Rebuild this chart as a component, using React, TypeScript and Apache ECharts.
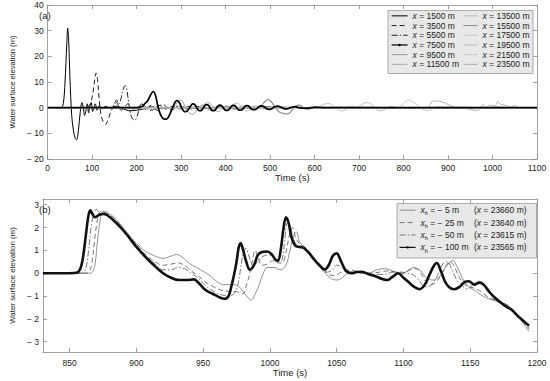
import React, { useEffect, useRef } from "react";
import * as echarts from "echarts";

const FONT = '"Liberation Sans", Arial, Helvetica, sans-serif';
const TXT = "#222";
const AX = "#8a8a8a";

// ---------- Panel (a) ----------
const topXTicks = [0, 100, 200, 300, 400, 500, 600, 700, 800, 900, 1000, 1100];
const topYTicks = [-20, -10, 0, 10, 20, 30, 40];
const topNames = [
  "x = 1500 m", "x = 3500 m", "x = 5500 m", "x = 7500 m", "x = 9500 m", "x = 11500 m",
  "x = 13500 m", "x = 15500 m", "x = 17500 m", "x = 19500 m", "x = 21500 m", "x = 23500 m",
];

const s1500 = [[0,0],[30,0],[35,1.5],[39,10],[43,25],[45,31],[47,27],[50,12],[54,-3],[58,-9],[62,-12],[65,-12.5],[69,-9],[73,-2],[77,2],[80,0],[83,-3],[86,-1],[89,1.5],[92,-2],[95,0.5],[98,2],[101,-1.5],[104,0],[107,1.5],[111,-1],[116,0.8],[122,-0.5],[130,0.5],[140,-0.2],[155,0.6],[170,-0.5],[185,-1.2],[200,-1],[215,-0.5],[230,0.3],[260,-0.3],[300,0.2],[350,-0.2],[400,0.2],[450,0],[500,0.2],[600,0],[700,0.1],[800,0],[900,0.1],[1000,0],[1100,0]];
const s3500 = [[0,0],[85,0],[92,0.5],[97,2],[101,5],[105,10],[109,13.5],[112,11],[116,3],[120,-3],[125,-5.5],[130,-6.5],[135,-5],[140,-2.5],[145,-0.5],[150,1],[155,2],[160,0.5],[165,-1],[172,0],[180,1.5],[188,0],[195,-1],[205,0.5],[215,1],[225,-0.5],[235,-1],[245,0.5],[255,1],[265,-0.5],[280,0.5],[300,-0.5],[320,0.5],[350,-0.3],[380,0.3],[420,-0.2],[480,0.2],[550,0],[650,0.1],[800,0],[1100,0]];
const s5500 = [[0,0],[140,0],[146,0.5],[150,1.5],[155,3],[160,1.5],[164,3],[168,6],[172,8.3],[175,8.5],[178,7],[182,2],[186,-2],[190,-4.2],[195,-4.8],[200,-4],[204,-1.5],[208,1],[212,1.5],[217,0],[222,-1],[228,0.5],[234,1],[240,-0.5],[247,-1],[255,0.5],[262,1],[270,-0.5],[280,-1],[290,0.5],[300,0.8],[312,-0.5],[325,-0.5],[340,0.5],[360,-0.3],[390,0.3],[430,-0.3],[480,0.2],[540,-0.1],[620,0.1],[700,0],[1100,0]];
const s7500 = [[0,0],[205,0],[212,0.5],[218,1.5],[224,2.5],[230,4.5],[235,6],[238,6.3],[242,5],[246,2],[251,-1.5],[256,-3.5],[261,-4.4],[266,-4.5],[271,-3.8],[276,-2],[281,0],[286,2],[291,2.8],[296,2],[301,0],[306,-1.3],[311,-1.6],[316,-0.8],[321,0.5],[326,1.5],[331,1.2],[336,-0.3],[341,-1.2],[346,-1],[351,0.2],[356,1.2],[361,1],[366,-0.3],[371,-1.2],[376,-1],[381,0.2],[386,1],[391,0.8],[396,-0.4],[401,-1.1],[406,-1],[411,0.1],[416,0.9],[421,0.8],[426,-0.3],[431,-1],[436,-0.9],[441,0],[446,0.8],[451,0.7],[456,-0.2],[461,-0.8],[467,-0.7],[473,0.1],[479,0.7],[485,0.5],[491,-0.3],[497,-0.7],[503,-0.5],[510,0.3],[517,0.6],[524,0.2],[531,-0.4],[538,-0.5],[546,0],[555,0.4],[565,0],[580,-0.2],[600,0.1],[650,0],[1100,0]];
const s9500 = [[0,0],[260,0],[270,0.3],[280,-0.5],[287,0.8],[293,2.3],[298,3],[303,2.5],[308,0.8],[314,-1.2],[320,-2.3],[326,-2.6],[332,-1.8],[338,-0.3],[344,0.8],[350,1],[356,0.2],[362,-0.8],[368,-1],[374,-0.2],[380,0.6],[386,0.8],[392,0],[398,-0.6],[405,-0.5],[412,0.4],[420,0.5],[428,-0.3],[436,-0.5],[445,0.2],[455,0.4],[465,-0.2],[480,-0.3],[500,0.2],[530,-0.1],[600,0],[1100,0]];
const s11500 = [[0,0],[320,0],[330,0.3],[338,-0.3],[346,0.5],[354,1.5],[360,2],[366,1.5],[372,0],[378,-1.2],[384,-1.5],[390,-0.8],[396,0.3],[402,0.8],[408,0.5],[414,-0.4],[420,-0.8],[427,-0.3],[434,0.5],[441,0.6],[448,0],[455,-0.5],[463,-0.3],[471,0.3],[480,0.4],[490,-0.2],[500,-0.3],[515,0.2],[535,0],[600,0.1],[1100,0]];
const s13500 = [[0,0],[385,0],[395,0.3],[403,-0.2],[411,0.5],[418,1.3],[425,1.8],[431,1.4],[437,0.2],[443,-0.9],[449,-1.3],[455,-0.8],[461,0.2],[467,0.7],[473,0.5],[479,-0.2],[486,-0.6],[493,-0.3],[500,0.3],[508,0.4],[516,-0.1],[525,-0.3],[540,0.1],[560,0],[1100,0]];
const s15500 = [[0,0],[450,0],[462,0.2],[470,-0.3],[477,0.4],[483,1.3],[489,2.5],[495,3.1],[500,2.8],[506,1.5],[512,0],[518,-1.3],[524,-2],[530,-2.2],[537,-2.4],[543,-2.2],[549,-1],[555,0.2],[561,0.9],[567,1],[573,0.3],[580,-0.5],[587,-0.6],[594,0],[602,0.4],[610,0.2],[620,-0.2],[635,0],[660,0.1],[700,0],[1100,0]];
const s17500 = [[0,0],[580,0],[592,0.3],[600,-0.3],[608,0.3],[616,1],[624,1.5],[632,1.6],[640,1],[648,-0.2],[655,-1],[662,-1.3],[669,-0.8],[676,0],[683,0.5],[690,0.4],[698,-0.2],[706,-0.4],[715,0],[725,0.2],[740,0],[1100,0]];
const s19500 = [[0,0],[670,0],[682,0.2],[690,-0.3],[698,0.3],[706,1],[713,1.8],[720,2],[727,1.5],[734,0.3],[741,-0.8],[748,-1.2],[755,-0.9],[762,-0.2],[769,0.4],[776,0.5],[784,0],[792,-0.4],[800,-0.3],[810,0.1],[825,0.1],[850,0],[1100,0]];
const s21500 = [[0,0],[765,0],[778,0.2],[786,-0.2],[793,0.5],[800,1.5],[806,2.6],[812,3],[818,2.6],[825,1.8],[832,0.8],[840,-0.3],[848,-1],[856,-1.1],[864,-0.6],[872,0],[880,0.3],[890,0.2],[900,-0.2],[912,-0.3],[925,0],[940,0.3],[955,0.1],[970,-0.2],[990,0],[1010,0.5],[1020,0.3],[1040,-0.2],[1060,0],[1100,0]];
const s23500 = [[0,0],[850,0],[856,0.2],[860,1.2],[864,2.4],[867,2.7],[872,2.5],[877,2.6],[885,2.3],[892,1.9],[900,1.2],[910,0.5],[920,0],[930,-0.3],[940,-0.3],[950,-0.7],[960,-1],[966,-1.1],[972,-0.4],[976,0.8],[978,1.3],[982,0.6],[986,0.1],[992,0.8],[998,0.9],[1004,0.6],[1008,1.2],[1012,2.4],[1016,1.6],[1022,1.1],[1030,0.9],[1040,0.2],[1050,0.8],[1058,0.1],[1070,0],[1080,-0.1],[1090,-0.3],[1100,0]];

// ---------- Panel (b) ----------
const botXTicks = [850, 900, 950, 1000, 1050, 1100, 1150, 1200];
const botYTicks = [-3, -2, -1, 0, 1, 2, 3];
const botXh = ["− 5", "− 25", "− 50", "− 100"];
const botX = ["23660", "23640", "23615", "23565"];

const b5 = [[830,0],[864,0],[867,0.05],[869,0.4],[871,1.5],[873,2.4],[875,2.7],[877,2.7],[880,2.6],[885,2.35],[892,1.85],[900,1.3],[907,0.95],[914,0.75],[920,0.65],[926,0.75],[930,0.82],[934,0.72],[938,0.5],[942,0.35],[948,0.15],[955,-0.1],[960,-0.35],[965,-0.5],[972,-0.5],[976,-0.55],[980,-0.8],[984,-1.1],[986,-1.18],[989,-0.9],[992,-0.5],[995,0.0],[998,0.25],[1003,0.25],[1008,0.15],[1012,0.35],[1015,1.0],[1018,1.7],[1020,1.8],[1022,1.4],[1026,1.1],[1030,0.9],[1035,0.5],[1040,0.1],[1045,-0.2],[1050,-0.3],[1054,-0.2],[1058,0.0],[1063,0.1],[1068,0.05],[1074,0.0],[1080,0.15],[1086,0.2],[1092,0.1],[1098,-0.05],[1104,0.15],[1108,0.25],[1113,0.1],[1117,-0.2],[1122,-0.3],[1126,-0.2],[1130,0.1],[1134,0.45],[1137,0.55],[1140,0.3],[1144,-0.2],[1148,-0.55],[1153,-0.75],[1158,-0.95],[1163,-1.1],[1168,-1.2],[1173,-1.3],[1178,-1.4],[1183,-1.7],[1188,-2.05],[1194,-2.55]];
const b25 = [[830,0],[862,0],[865,0.1],[867,0.6],[869,1.6],[871,2.4],[873,2.7],[876,2.65],[880,2.55],[885,2.3],[892,1.8],[900,1.25],[907,0.8],[914,0.5],[920,0.35],[926,0.4],[931,0.45],[936,0.35],[941,0.1],[946,-0.1],[952,-0.4],[958,-0.6],[964,-0.75],[970,-0.8],[974,-0.8],[977,-0.85],[980,-0.9],[982,-0.6],[985,0.0],[987,0.6],[989,1.0],[991,0.7],[994,0.35],[998,0.4],[1002,0.55],[1006,0.45],[1009,0.45],[1012,0.9],[1015,1.8],[1017,2.0],[1019,1.6],[1022,1.3],[1026,1.15],[1030,0.9],[1035,0.55],[1040,0.2],[1044,-0.05],[1048,-0.1],[1052,0.0],[1056,0.1],[1060,0.15],[1065,0.05],[1070,0.0],[1076,0.0],[1082,0.05],[1088,0.1],[1094,0.05],[1100,0.0],[1105,0.15],[1109,0.2],[1113,0.0],[1117,-0.4],[1121,-0.5],[1125,-0.35],[1129,0.0],[1132,0.35],[1135,0.5],[1138,0.3],[1142,-0.2],[1146,-0.5],[1150,-0.6],[1155,-0.7],[1160,-0.9],[1165,-1.1],[1170,-1.2],[1175,-1.35],[1180,-1.5],[1185,-1.8],[1190,-2.15],[1194,-2.45]];
const b50 = [[830,0],[859,0],[862,0.2],[864,0.9],[866,2.0],[868,2.6],[870,2.8],[873,2.6],[877,2.6],[882,2.4],[890,1.9],[900,1.2],[907,0.75],[914,0.4],[920,0.15],[926,0.15],[931,0.25],[936,0.2],[941,0.0],[946,-0.2],[952,-0.55],[958,-0.8],[964,-0.95],[969,-1.0],[973,-0.9],[976,-0.5],[978,0.2],[980,0.9],[982,1.1],[984,0.8],[987,0.4],[990,0.45],[994,0.7],[998,0.8],[1002,0.75],[1006,0.5],[1009,0.6],[1011,1.4],[1013,2.2],[1015,2.15],[1017,1.6],[1020,1.25],[1024,1.15],[1028,0.95],[1033,0.6],[1038,0.25],[1042,0.05],[1046,0.1],[1050,0.35],[1053,0.3],[1057,0.05],[1062,0.0],[1067,0.05],[1073,0.0],[1080,-0.05],[1086,-0.05],[1092,0.05],[1098,0.05],[1103,0.0],[1108,-0.1],[1112,-0.35],[1116,-0.6],[1120,-0.55],[1124,-0.25],[1127,0.1],[1130,0.45],[1133,0.5],[1136,0.2],[1140,-0.3],[1144,-0.55],[1148,-0.7],[1152,-0.5],[1156,-0.35],[1160,-0.45],[1165,-0.8],[1170,-1.1],[1175,-1.3],[1180,-1.5],[1185,-1.8],[1190,-2.1],[1194,-2.4]];
const b100 = [[830,0],[850,0],[855,0.02],[858,0.2],[860,0.7],[862,1.6],[864,2.5],[865.5,2.75],[867,2.6],[869,2.45],[872,2.55],[875,2.6],[878,2.55],[885,2.2],[892,1.75],[900,1.15],[907,0.7],[914,0.3],[920,0.0],[926,-0.2],[932,-0.3],[938,-0.3],[943,-0.27],[947,-0.45],[952,-0.75],[957,-0.9],[962,-1.05],[966,-1.12],[969,-1.0],[971,-0.6],[973,-0.1],[975,0.5],[976.5,1.1],[978,1.32],[980,1.0],[982,0.55],[985,0.15],[988,0.35],[991,0.8],[994,0.93],[998,0.95],[1001,0.85],[1004,0.6],[1006,0.55],[1008,1.0],[1010,1.9],[1012,2.45],[1014,2.2],[1016,1.6],[1019,1.2],[1022,1.15],[1025,1.12],[1029,0.9],[1033,0.6],[1037,0.35],[1041,0.16],[1044,0.35],[1047,0.75],[1050,0.87],[1053,0.55],[1057,0.1],[1061,0.0],[1065,0.05],[1069,0.06],[1074,-0.05],[1079,-0.13],[1084,-0.25],[1088,-0.3],[1092,-0.15],[1096,0.0],[1100,-0.2],[1104,-0.4],[1108,-0.6],[1112,-0.7],[1116,-0.5],[1120,0.0],[1123,0.35],[1125,0.45],[1128,0.1],[1131,-0.35],[1134,-0.6],[1138,-0.7],[1142,-0.6],[1146,-0.38],[1149,-0.35],[1153,-0.5],[1157,-0.41],[1160,-0.5],[1164,-0.8],[1168,-1.05],[1172,-1.25],[1177,-1.47],[1181,-1.6],[1185,-1.84],[1189,-2.05],[1194,-2.3]];

const topData = [s1500, s3500, s5500, s7500, s9500, s11500, s13500, s15500, s17500, s19500, s21500, s23500];
const botData = [b5, b25, b50, b100];

const topStyles = [
  { color: "#000", width: 1, type: "solid" },
  { color: "#222", width: 1, type: [5, 3] },
  { color: "#222", width: 1, type: [6, 2, 1.5, 2] },
  { color: "#000", width: 1.7, type: "solid", sym: true },
  { color: "#999", width: 1, type: "solid" },
  { color: "#aaa", width: 1, type: "solid" },
  { color: "#bbb", width: 1, type: "solid" },
  { color: "#8c8c8c", width: 1.2, type: "solid" },
  { color: "#c4c4c4", width: 1, type: "solid" },
  { color: "#bdbdbd", width: 1, type: "solid" },
  { color: "#c8c8c8", width: 1, type: "solid" },
  { color: "#b0b0b0", width: 1, type: "solid" },
];
const botStyles = [
  { color: "#777", width: 0.8, type: "solid" },
  { color: "#555", width: 0.8, type: [5, 3] },
  { color: "#555", width: 0.8, type: [6, 2, 1.5, 2] },
  { color: "#111", width: 2.6, type: "solid", sym: true },
];

const minus = (v: number) => (v < 0 ? "− " + Math.abs(v) : String(v));
const plain = (v: number) => String(v);

function App() {
  const ref = useRef<HTMLDivElement>(null);
  useEffect(() => {
    if (!ref.current) return;
    const chart = echarts.init(ref.current, undefined, { renderer: "svg" });
    const botNames = botXh.map((h, i) => `xh = ${h} m (x = ${botX[i]} m)`);

    const tickBase = (vals: number[] | null, show: boolean, fmt?: any, margin = 4) => ({
      axisLine: { show: true, onZero: false, lineStyle: { color: AX, width: 0.8 } },
      axisTick: { show: true, inside: true, length: 4, lineStyle: { color: AX, width: 0.8 }, ...(vals ? { customValues: vals } : {}) },
      axisLabel: { show, color: TXT, fontSize: 8.5, fontFamily: FONT, margin, formatter: fmt, ...(vals ? { customValues: vals } : {}) },
      splitLine: { show: false },
    });

    const mkSeries = (data: number[][][], styles: any[], names: string[], axisIdx: number) =>
      data.map((d, i) => ({
        type: "line",
        name: names[i],
        xAxisIndex: axisIdx,
        yAxisIndex: axisIdx,
        data: d,
        smooth: 0.35,
        symbol: styles[i].sym ? "circle" : "none",
        symbolSize: 3,
        showSymbol: false,
        itemStyle: { color: styles[i].color },
        lineStyle: { color: styles[i].color, width: styles[i].width, type: styles[i].type },
        z: styles[i].sym ? 3 : 2,
        silent: true,
      }));

    const legendItems = (names: string[], styles: any[]) =>
      names.map((n, i) => ({
        name: n,
        itemStyle: styles[i].sym ? { color: styles[i].color, borderWidth: 0, opacity: 1 } : { opacity: 0 },
        lineStyle: { width: styles[i].sym ? 1.2 : Math.min(styles[i].width, 1), color: styles[i].color, type: styles[i].type },
      }));

    const topFmt = (name: string) => `{i|x}{n|${name.slice(1)}}`;
    const botFmt = (name: string) => {
      const i = botNames.indexOf(name);
      return `{i|x}{sub|h}{a| = ${botXh[i]} m}{n|(}{i|x}{n| = ${botX[i]} m)}`;
    };
    const richTop = {
      i: { fontStyle: "italic", fontSize: 8.5, fontFamily: FONT, color: TXT, lineHeight: 9.7 },
      n: { fontSize: 8.5, fontFamily: FONT, color: TXT, lineHeight: 9.7 },
    };
    const richBot = {
      i: { fontStyle: "italic", fontSize: 8.5, fontFamily: FONT, color: TXT, lineHeight: 12.4 },
      n: { fontSize: 8.5, fontFamily: FONT, color: TXT, lineHeight: 12.4 },
      a: { fontSize: 8.5, fontFamily: FONT, color: TXT, lineHeight: 12.4, width: 46 },
      sub: { fontSize: 5.5, fontFamily: FONT, color: TXT, lineHeight: 12.4, verticalAlign: "bottom", padding: [4, 0, 0, 0] },
    };

    const option: any = {
      animation: false,
      backgroundColor: "#fff",
      textStyle: { fontFamily: FONT },
      grid: [
        { left: 36, right: 13, top: 5, height: 154, containLabel: false },
        { left: 36, right: 13, top: 199, height: 153, containLabel: false },
      ],
      xAxis: [
        { type: "value", gridIndex: 0, position: "bottom", min: 0, max: 1100, interval: 100, ...tickBase(null, true, plain, 4),
          name: "Time (s)", nameLocation: "middle", nameGap: 12.5, nameTextStyle: { fontSize: 9.5, color: TXT, fontFamily: FONT } },
        { type: "value", gridIndex: 0, position: "top", min: 0, max: 1100, interval: 100, ...tickBase(null, false) },
        { type: "value", gridIndex: 1, position: "bottom", min: 830, max: 1200, ...tickBase(botXTicks, true, plain, 6),
          name: "Time (s)", nameLocation: "middle", nameGap: 15, nameTextStyle: { fontSize: 9.5, color: TXT, fontFamily: FONT } },
        { type: "value", gridIndex: 1, position: "top", min: 830, max: 1200, ...tickBase(botXTicks, false) },
      ],
      yAxis: [
        { type: "value", gridIndex: 0, position: "left", min: -20, max: 40, interval: 10, ...tickBase(null, true, minus, 4),
          name: "Water surface elevation (m)", nameLocation: "middle", nameGap: 23, nameTextStyle: { fontSize: 7.6, color: TXT, fontFamily: FONT } },
        { type: "value", gridIndex: 0, position: "right", min: -20, max: 40, interval: 10, ...tickBase(null, false) },
        { type: "value", gridIndex: 1, position: "left", min: -3.45, max: 3.25, ...tickBase(botYTicks, true, minus, 4),
          name: "Water surface elevation (m)", nameLocation: "middle", nameGap: 23, nameTextStyle: { fontSize: 7.9, color: TXT, fontFamily: FONT } },
        { type: "value", gridIndex: 1, position: "right", min: -3.45, max: 3.25, ...tickBase(botYTicks, false) },
      ],
      legend: [
        { orient: "vertical", left: 391, top: 11, itemWidth: 16, itemHeight: 3, itemGap: 0, padding: 0,
          data: legendItems(topNames.slice(0, 6), topStyles.slice(0, 6)), formatter: topFmt,
          textStyle: { rich: richTop, fontSize: 8.5, lineHeight: 9.7 }, selectedMode: false },
        { orient: "vertical", left: 463, top: 11, itemWidth: 14, itemHeight: 3, itemGap: 0, padding: 0,
          data: legendItems(topNames.slice(6), topStyles.slice(6)), formatter: topFmt,
          textStyle: { rich: richTop, fontSize: 8.5, lineHeight: 9.7 }, selectedMode: false },
        { orient: "vertical", left: 399, top: 204, itemWidth: 16, itemHeight: 3, itemGap: 0, padding: 0,
          data: legendItems(botNames, botStyles), formatter: botFmt,
          textStyle: { rich: richBot, fontSize: 8.5, lineHeight: 12.4 }, selectedMode: false },
      ],
      graphic: [
        { type: "rect", z: 3, shape: { x: 388, y: 10.5, width: 145, height: 63 }, style: { fill: "#e8e8e8", stroke: "#9a9a9a", lineWidth: 0.8 } },
        { type: "rect", z: 3, shape: { x: 397, y: 203.5, width: 139.5, height: 54.5 }, style: { fill: "#e8e8e8", stroke: "#9a9a9a", lineWidth: 0.8 } },
        { type: "text", z: 5, left: 39, top: 10, style: { text: "(a)", fontSize: 9.5, fontFamily: FONT, fill: TXT } },
        { type: "text", z: 5, left: 39, top: 204, style: { text: "(b)", fontSize: 9.5, fontFamily: FONT, fill: TXT } },
      ],
      series: [
        ...mkSeries(topData, topStyles, topNames, 0),
        ...mkSeries(botData, botStyles, botNames, 2),
      ],
    };
    chart.setOption(option);
    return () => chart.dispose();
  }, []);
  return <div ref={ref} style={{ width: 550, height: 381, position: "absolute", left: 0, top: 0 }} />;
}

export default App;
